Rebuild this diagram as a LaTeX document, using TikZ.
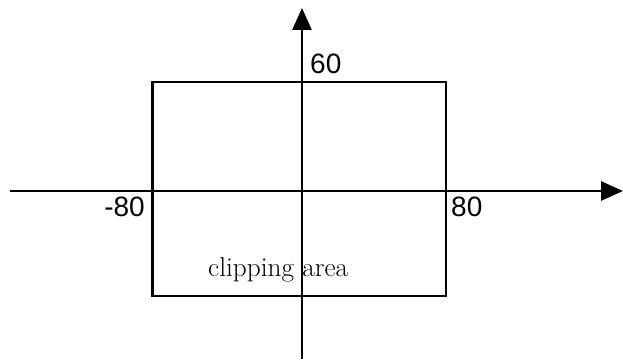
\documentclass[tikz,border=0pt]{standalone}
\usepackage{fontspec}
\newfontfamily\numfont{Liberation Sans}
\usetikzlibrary{arrows.meta}
\begin{document}
\begin{tikzpicture}[x=1pt,y=1pt,
  axis/.style={line width=2.8pt,-{Triangle[length=22pt,width=19pt]}},
  frame/.style={draw,line width=2.8pt},
  num/.style={inner sep=0pt,font=\numfont\fontsize{28}{30}\selectfont},
  lbl/.style={inner sep=0pt,font=\fontsize{27.3}{30}\selectfont}]
\useasboundingbox (0,0) rectangle (623,361);
\coordinate (xl) at (10,170);
\coordinate (xr) at (623,170);
\coordinate (yb) at (302,2);
\coordinate (yt) at (302,353);
\draw[frame] (152.5,65) rectangle (446,279);
\draw[axis] (xl) -- (xr);
\draw[axis] (yb) -- (yt);
\node[num,anchor=base west] (l60) at (310,287) {60};
\node[num,anchor=base east] (lm80) at (145,144) {-80};
\node[num,anchor=base west] (l80) at (451,144) {80};
\node[lbl,anchor=base west] (clip) at (208,84) {clipping area};
\end{tikzpicture}
\end{document}
